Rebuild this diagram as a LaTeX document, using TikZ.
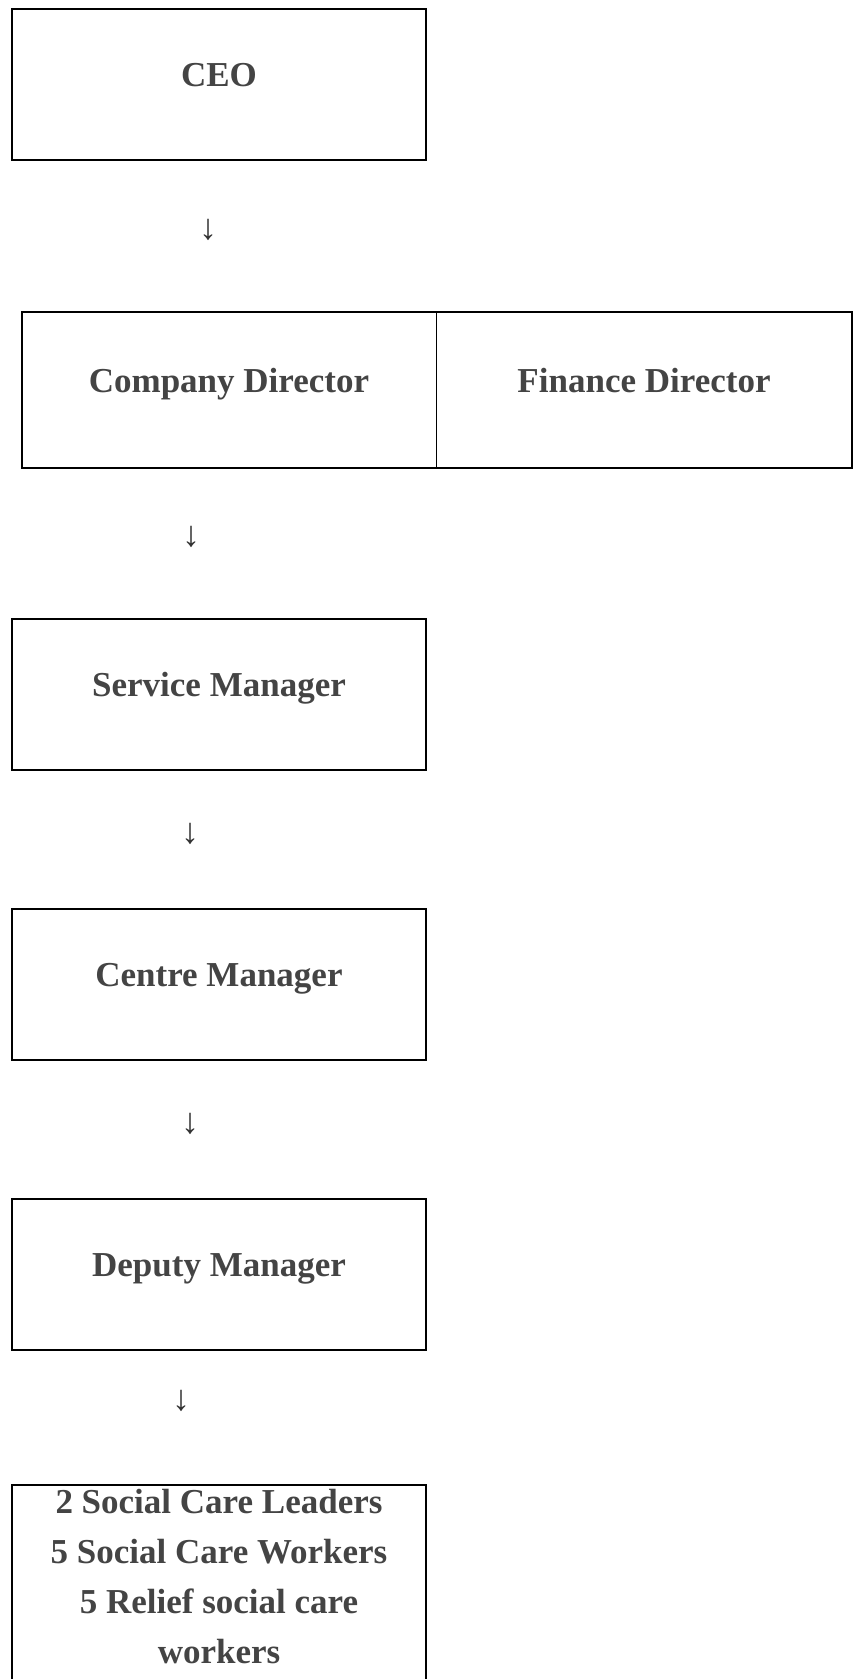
\documentclass[tikz,border=0pt]{standalone}
\usepackage{fontspec}
\setmainfont{Liberation Serif}
\usetikzlibrary{positioning}
\definecolor{ink}{HTML}{444444}
\definecolor{arrowink}{HTML}{333333}
\tikzset{
  post/.style={draw=black,line width=2pt,minimum width=414pt,minimum height=151pt,inner sep=0pt,align=center,font=\fontsize{35}{50}\selectfont\bfseries,text=ink,text height=23pt,text depth=19pt},
  cell/.style={post,draw=none,outer sep=0pt,minimum width=415pt,minimum height=156pt},
  staffbox/.style={draw=black,line width=2pt,minimum width=414pt,inner xsep=0pt,inner ysep=4.5pt,align=center,font=\fontsize{35}{50}\selectfont\bfseries,text=ink,text depth=45pt},
  dnarrow/.style={inner sep=0pt,font=\fontsize{36}{36}\selectfont,text=arrowink}
}
\begin{document}
\begin{tikzpicture}[x=1pt,y=-1pt]
  \useasboundingbox (0,0) rectangle (858,1679);
  \clip (0,0) rectangle (858,1679);
  \node[post] (ceo) at (219,84) {CEO};
  \node[dnarrow] (a1) at (208,230) {↓};
  \node[cell] (company) at (229,390) {Company Director};
  \node[cell,right=0pt of company] (finance) {Finance Director};
  \draw[line width=2pt] (company.north west) rectangle (finance.south east);
  \draw[line width=1.2pt] (company.north east) -- (company.south east);
  \node[dnarrow] (a2) at (191,537) {↓};
  \node[post] (service) at (219,694.5) {Service Manager};
  \node[dnarrow] (a3) at (190,834) {↓};
  \node[post] (centre) at (219,984) {Centre Manager};
  \node[dnarrow] (a4) at (190,1124) {↓};
  \node[post] (deputy) at (219,1274) {Deputy Manager};
  \node[dnarrow] (a5) at (181,1401) {↓};
  \node[staffbox,anchor=north] (staff) at (219,1484) {2 Social Care Leaders\\5 Social Care Workers\\5 Relief social care\\workers};
\end{tikzpicture}
\end{document}
